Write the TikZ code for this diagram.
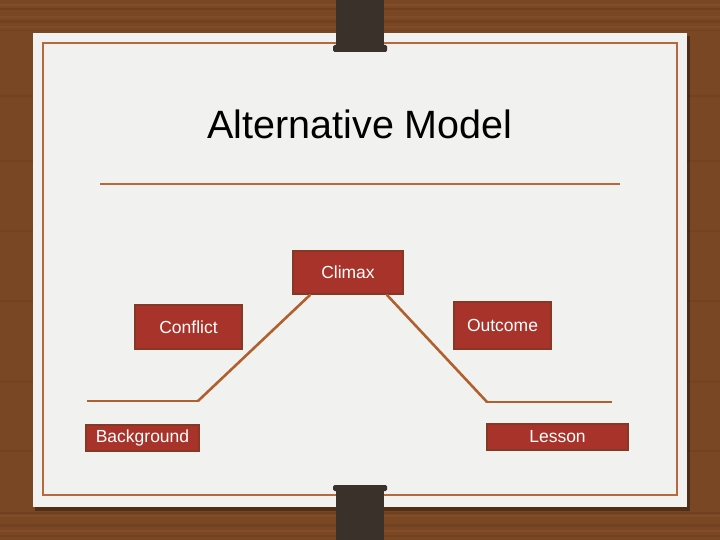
\documentclass[tikz,border=0pt]{standalone}
\usepackage{fontspec}
\setmainfont{Liberation Sans}
\definecolor{wood}{HTML}{7A4724}
\definecolor{wooddark}{HTML}{4E2C12}
\definecolor{woodlight}{HTML}{9A6234}
\definecolor{paper}{HTML}{F1F1EF}
\definecolor{framecol}{HTML}{B5693C}
\definecolor{boxred}{HTML}{A8332A}
\definecolor{boxedge}{HTML}{853823}
\definecolor{clipcol}{HTML}{3A312B}
\definecolor{linec}{HTML}{B0602F}
\tikzset{
  labelbox/.style={draw=boxedge, line width=1.2pt, fill=boxred, text=white, inner sep=0pt,
    font=\fontsize{17.5}{21}\selectfont},
  thinline/.style={draw=linec, line width=1.3pt},
  thickline/.style={draw=linec, line width=2.6pt},
}
\begin{document}
\begin{tikzpicture}[x=1pt,y=-1pt]
\useasboundingbox (0,0) rectangle (720,540);
% wood background
\fill[wood] (0,0) rectangle (720,540);
\foreach \yy/\op/\h in {8/0.25/2,20/0.18/3,30/0.22/1.5,95/0.15/2,160/0.15/2.5,230/0.12/2,300/0.15/2,380/0.12/2.5,450/0.15/2,512/0.22/2,524/0.18/3,535/0.2/2}{
  \fill[wooddark, opacity=\op] (0,\yy) rectangle (720,\yy+\h);
}
\foreach \yy/\op in {4/0.25,16/0.2,26/0.2,515/0.2,530/0.25}{
  \fill[woodlight, opacity=\op] (0,\yy) rectangle (720,\yy+2);
}
% paper shadow and paper
\fill[black, opacity=0.35] (35,36) rectangle (690,511);
\fill[paper] (33,33) rectangle (687,507);
% frame
\draw[framecol, line width=2pt] (43,43) rectangle (677,495);
% clips
\fill[clipcol] (336,0) rectangle (384,48);
\fill[clipcol, rounded corners=1.5pt] (333,45) rectangle (387,52);
\fill[clipcol, rounded corners=1.5pt] (333,485) rectangle (387,491);
\fill[clipcol] (336,488) rectangle (384,540);
% title
\node[font=\fontsize{39.5}{46}\selectfont, text=black] (title) at (360,124) {Alternative Model};
\draw[framecol, line width=2pt] (100,184) -- (620,184);
% boxes
\node[labelbox, minimum width=110pt, minimum height=43pt] (climax) at (348,272.5) {Climax};
\node[labelbox, minimum width=107pt, minimum height=44pt] (conflict) at (188.5,327) {Conflict};
\node[labelbox, minimum width=97pt, minimum height=47pt] (outcome) at (502.5,325.5) {Outcome};
\node[labelbox, minimum width=113pt, minimum height=26pt] (background) at (142.5,438) {Background};
\node[labelbox, minimum width=141pt, minimum height=26pt] (lesson) at (557.5,437) {Lesson};
% plot line
\coordinate (l0) at (87,401);
\coordinate (l1) at (198,401);
\coordinate (c1) at (310,295);
\coordinate (c2) at (387,295);
\coordinate (r1) at (487,402);
\coordinate (r2) at (612,402);
\draw[thinline] (l0) -- (l1);
\draw[thickline, line cap=round] (l1) -- (c1);
\draw[thickline, line cap=round] (c2) -- (r1);
\draw[thinline] (r1) -- (r2);
\end{tikzpicture}
\end{document}
